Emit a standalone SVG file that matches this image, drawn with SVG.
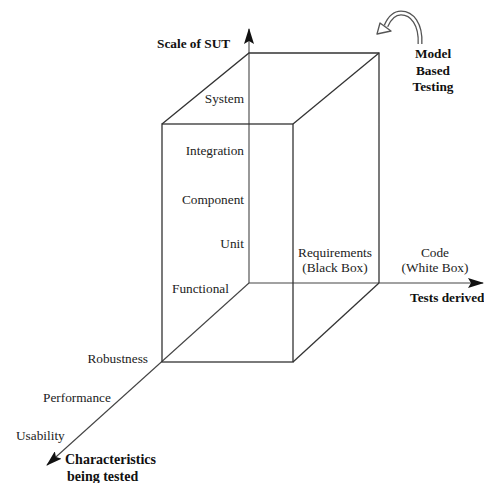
<svg xmlns="http://www.w3.org/2000/svg" width="484" height="483" viewBox="0 0 484 483">
  <style>
    .edge { fill: none; stroke: #333; stroke-width: 1.3; }
    .axis { fill: none; stroke: #444; stroke-width: 1.1; }
    .lbl { font-family: "Liberation Serif", "Times New Roman", serif; font-size: 13.3px; fill: #222; }
    .bold { font-weight: bold; fill: #111; }
    .mid { text-anchor: middle; }
    .end { text-anchor: end; }
  </style>
  <defs>
    <marker id="head" viewBox="0 0 16 10" refX="15" refY="5" markerWidth="16" markerHeight="10" markerUnits="userSpaceOnUse" orient="auto">
      <path d="M0,0 L16,5 L0,10 L3,5 Z" fill="#111"/>
    </marker>
  </defs>

  <!-- axes -->
  <g id="connectors">
    <line class="axis" x1="249" y1="283" x2="249" y2="29" marker-end="url(#head)"/>
    <line class="axis" x1="249" y1="283" x2="483" y2="283" marker-end="url(#head)"/>
    <line class="axis" x1="249" y1="283" x2="47" y2="465" stroke="#666" marker-end="url(#head)"/>
  </g>

  <!-- cube -->
  <g id="cube">
    <rect class="edge" x="162" y="124" width="131" height="238"/>
    <polyline class="edge" points="162,124 249,53 379,53 379,283"/>
    <line class="edge" x1="293" y1="124" x2="379" y2="53"/>
    <line class="edge" x1="379" y1="283" x2="293" y2="362"/>
  </g>

  <!-- curved arrow -->
  <g id="model-arrow">
    <path d="M420,44 C421,24 412,13 401,13 C394,13 389,19 386,26" fill="none" stroke="#555" stroke-width="5"/>
    <path d="M420,44 C421,24 412,13 401,13 C394,13 389,19 386,26" fill="none" stroke="#fff" stroke-width="2.4"/>
    <polygon points="377,34 380,23 391,31" fill="#fff" stroke="#555" stroke-width="1.3" stroke-linejoin="round"/>
  </g>

  <g id="scale-axis-label">
    <text class="lbl bold" x="157" y="48">Scale of SUT</text>
  </g>
  <g id="model-label">
    <text class="lbl bold mid" x="433" y="58">Model</text>
    <text class="lbl bold mid" x="433" y="75">Based</text>
    <text class="lbl bold mid" x="433" y="91">Testing</text>
  </g>
  <g id="scale-levels">
    <text class="lbl end" x="244" y="103">System</text>
    <text class="lbl end" x="244" y="155">Integration</text>
    <text class="lbl end" x="244" y="204">Component</text>
    <text class="lbl end" x="244" y="248">Unit</text>
    <text class="lbl" x="172" y="293">Functional</text>
  </g>
  <g id="derivation">
    <text class="lbl mid" x="335" y="257">Requirements</text>
    <text class="lbl mid" x="335" y="272">(Black Box)</text>
    <text class="lbl mid" x="435" y="257">Code</text>
    <text class="lbl mid" x="435" y="272">(White Box)</text>
    <text class="lbl bold" x="410" y="302">Tests derived</text>
  </g>
  <g id="characteristics">
    <text class="lbl end" x="148" y="363">Robustness</text>
    <text class="lbl" x="43" y="402">Performance</text>
    <text class="lbl" x="16" y="440">Usability</text>
    <text class="lbl bold" x="65" y="464" style="font-size:14px">Characteristics</text>
    <text class="lbl bold" x="67" y="481" style="font-size:14px">being tested</text>
  </g>
</svg>
